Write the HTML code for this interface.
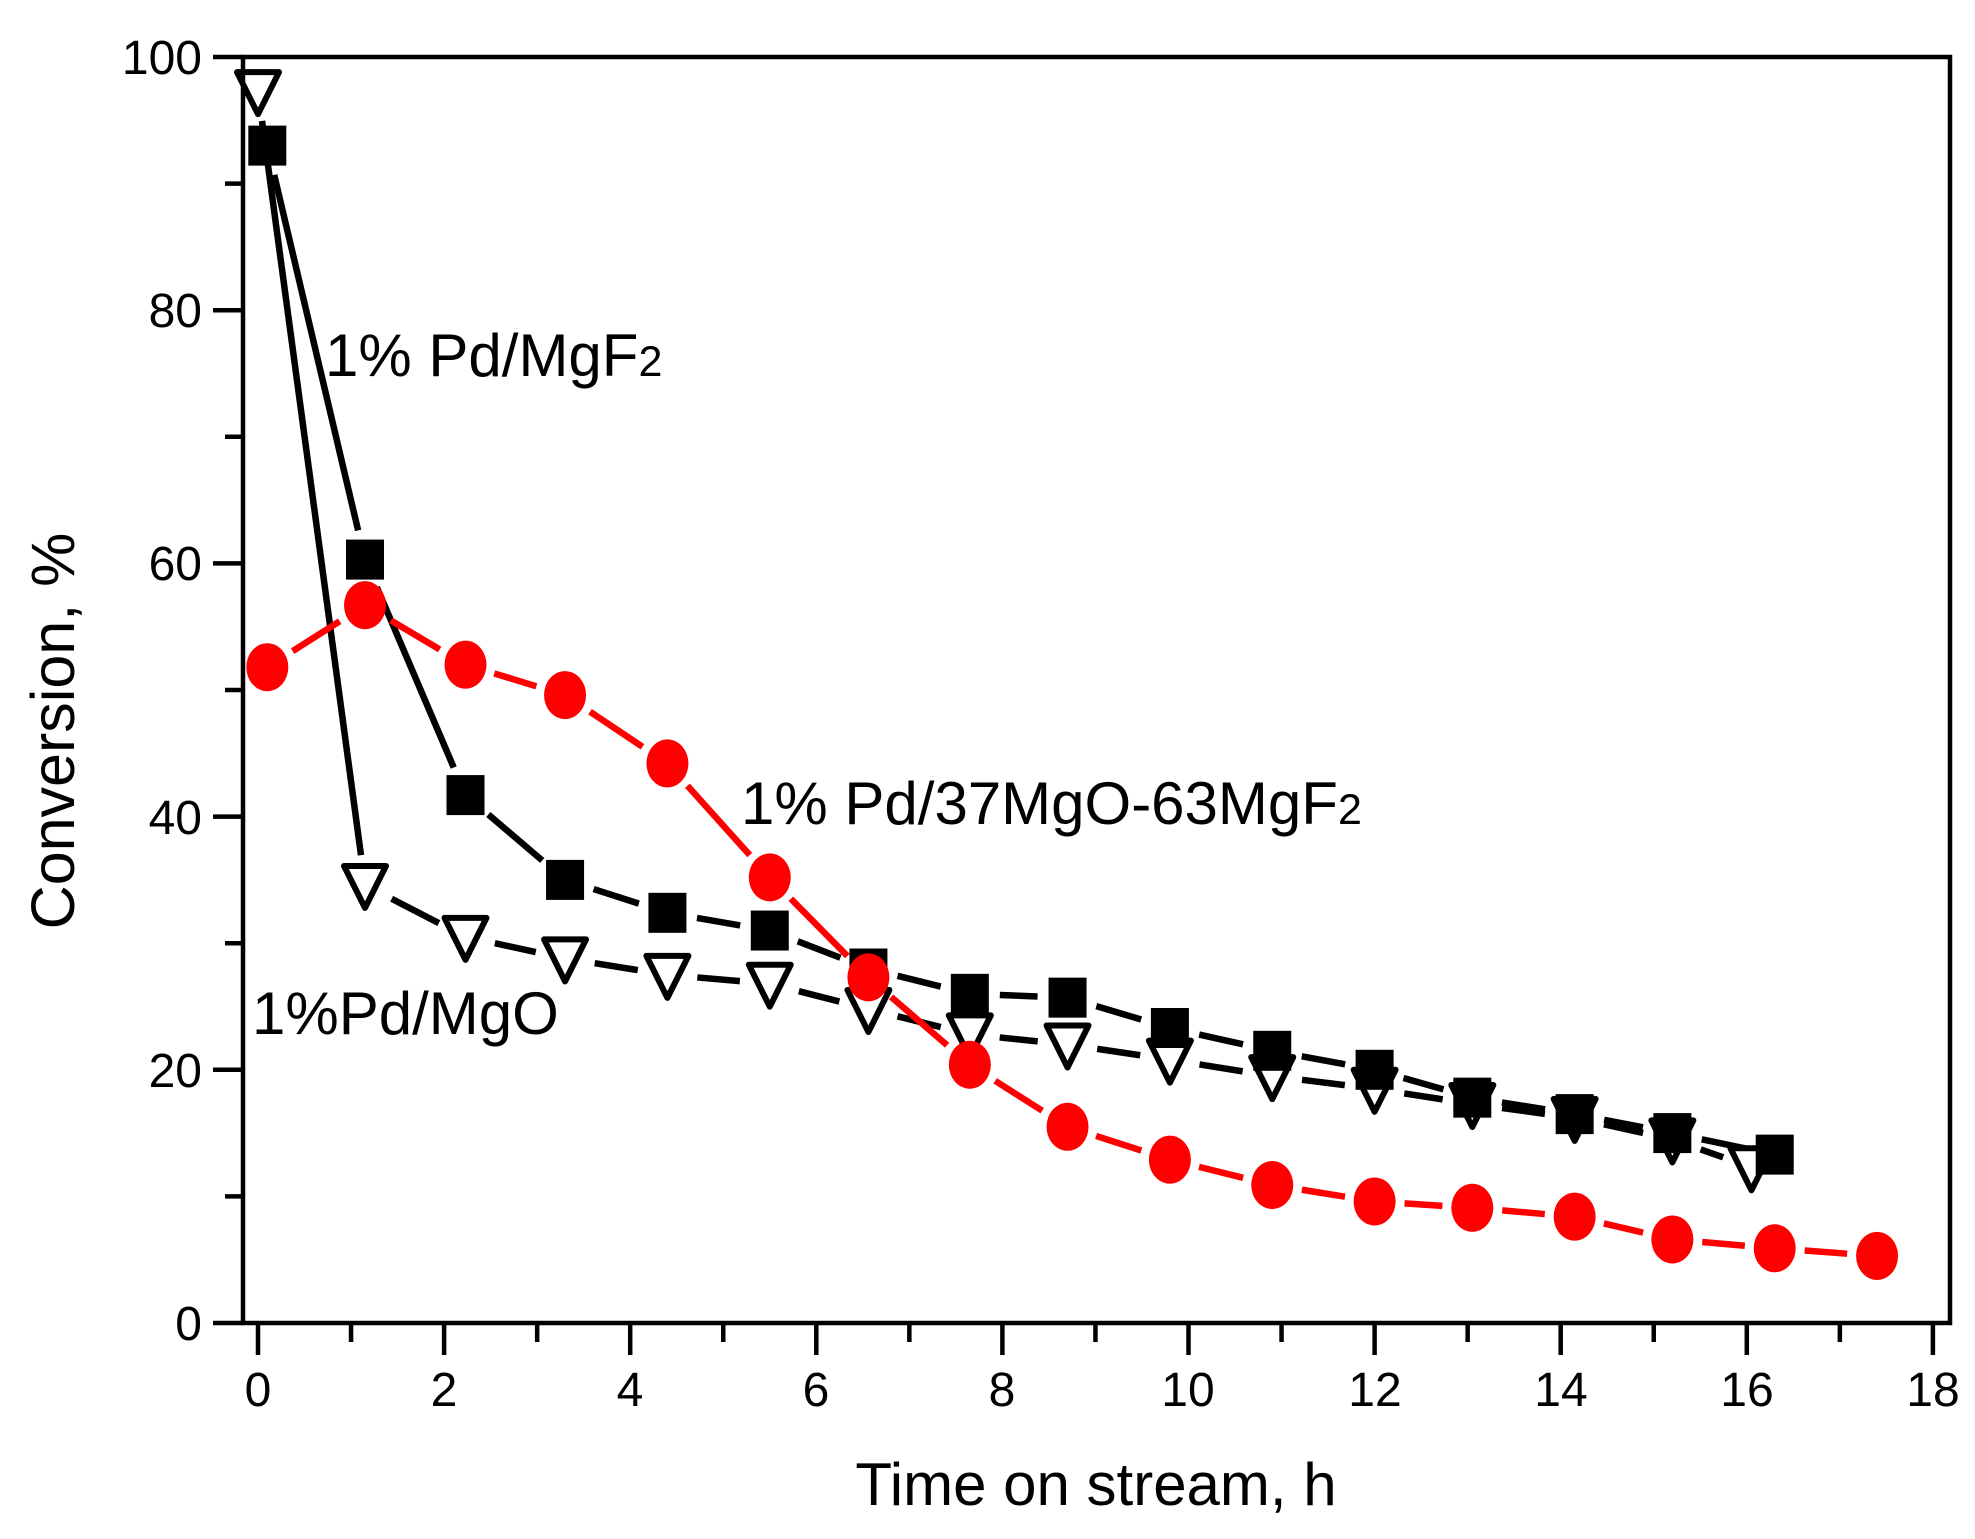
<!DOCTYPE html>
<html><head><meta charset="utf-8"><style>
html,body{margin:0;padding:0;background:#fff;}
svg{display:block;font-family:"Liberation Sans",sans-serif;}
</style></head><body>
<svg id="s" width="1975" height="1539" viewBox="0 0 1975 1539" xmlns="http://www.w3.org/2000/svg">
<g id="data"></g>
<rect x="243" y="57" width="1707" height="1266" fill="none" stroke="#000" stroke-width="4.5"/>
<g id="ticks" stroke="#000" stroke-width="4.5"></g>
<g font-size="48" text-anchor="end" fill="#000">
<text x="202" y="1340">0</text>
<text x="202" y="1087">20</text>
<text x="202" y="834">40</text>
<text x="202" y="580">60</text>
<text x="202" y="327">80</text>
<text x="202" y="74">100</text>
</g>
<g font-size="48" text-anchor="middle" fill="#000">
<text x="258" y="1406">0</text>
<text x="444" y="1406">2</text>
<text x="630" y="1406">4</text>
<text x="816" y="1406">6</text>
<text x="1002" y="1406">8</text>
<text x="1188" y="1406">10</text>
<text x="1375" y="1406">12</text>
<text x="1561" y="1406">14</text>
<text x="1747" y="1406">16</text>
<text x="1933" y="1406">18</text>
</g>
<text x="1096" y="1505" font-size="60" text-anchor="middle">Time on stream, h</text>
<text transform="translate(74,731) rotate(-90)" font-size="61" text-anchor="middle">Conversion, %</text>
<text x="325" y="376" font-size="60">1% Pd/MgF<tspan font-size="43">2</tspan></text>
<text x="741" y="824" font-size="60">1% Pd/37MgO-63MgF<tspan font-size="43">2</tspan></text>
<text x="252" y="1034" font-size="60">1%Pd/MgO</text>
</svg>
<script>
(function(){
var NS="http://www.w3.org/2000/svg";
function X(t){return 258+93.05*t;}
function Y(v){return 1323-12.66*v;}
var tk=document.getElementById('ticks');
function ln(p,x1,y1,x2,y2,c,w){var l=document.createElementNS(NS,'line');l.setAttribute('x1',x1);l.setAttribute('y1',y1);l.setAttribute('x2',x2);l.setAttribute('y2',y2);if(c){l.setAttribute('stroke',c);l.setAttribute('stroke-width',w);}p.appendChild(l);}
for(var i=0;i<=10;i++){var y=Y(i*10);ln(tk,i%2?225:213,y,243,y);}
for(var i=0;i<=18;i++){var x=X(i);ln(tk,x,1323,x,i%2?1342:1355);}
var ts=[0.1,1.15,2.23,3.3,4.4,5.5,6.56,7.65,8.7,9.8,10.9,12,13.05,14.15,15.2,16.3,17.4];
var red=[51.8,56.7,52,49.6,44.2,35.2,27.3,20.4,15.5,12.9,10.9,9.6,9.1,8.4,6.6,5.9,5.3];
var sq=[93,60.3,41.7,35,32.4,31,28,26,25.7,23.3,21.5,20,17.8,16.5,15,13.3];
var trT=[0.0,1.15,2.23,3.3,4.4,5.5,6.56,7.65,8.7,9.8,10.9,12,13.05,14.15,15.2,16.05];
var tr=[97.3,34.6,30.5,28.8,27.5,26.8,24.8,22.8,22,20.8,19.5,18.5,17.3,16.2,14.5,12.3];
var g=document.getElementById('data');
function series(xs,ys,c,gap){
 for(var i=0;i<xs.length-1;i++){
  var x1=X(xs[i]),y1=Y(ys[i]),x2=X(xs[i+1]),y2=Y(ys[i+1]);
  var dx=x2-x1,dy=y2-y1,L=Math.sqrt(dx*dx+dy*dy);
  if(L<2*gap+2)continue;
  var ux=dx/L,uy=dy/L;
  ln(g,x1+ux*gap,y1+uy*gap,x2-ux*gap,y2-uy*gap,c,6.5);
 }
}
series(trT,tr,'#000',30);
series(ts.slice(0,16),sq,'#000',30);
series(ts,red,'#f00',30);
for(var i=0;i<tr.length;i++){var x=X(trT[i]),y=Y(tr[i]);var p=document.createElementNS(NS,'polygon');
p.setAttribute('points',(x-21)+','+(y-19)+' '+(x+21)+','+(y-19)+' '+x+','+(y+23));p.setAttribute('fill','#fff');p.setAttribute('stroke','#000');p.setAttribute('stroke-width','6');p.setAttribute('stroke-linejoin','round');g.appendChild(p);}
for(var i=0;i<sq.length;i++){var x=X(ts[i]),y=Y(sq[i]);var r=document.createElementNS(NS,'rect');
r.setAttribute('x',x-19);r.setAttribute('y',y-20);r.setAttribute('width',38);r.setAttribute('height',40);r.setAttribute('fill','#000');g.appendChild(r);}
for(var i=0;i<red.length;i++){var e=document.createElementNS(NS,'ellipse');
e.setAttribute('cx',X(ts[i]));e.setAttribute('cy',Y(red[i]));e.setAttribute('rx',21);e.setAttribute('ry',24);e.setAttribute('fill','#f00');g.appendChild(e);}
})();
</script>
</body></html>
